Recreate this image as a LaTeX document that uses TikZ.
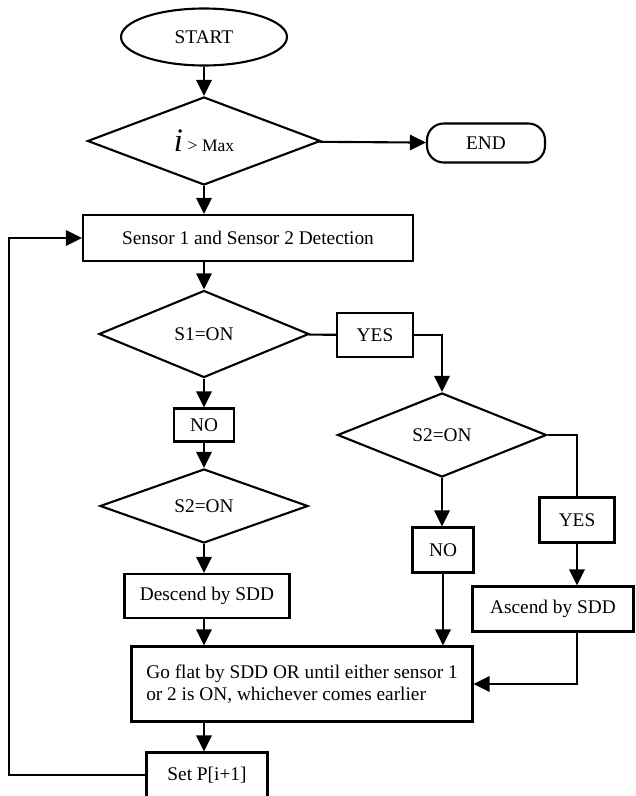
\documentclass[tikz,border=0pt]{standalone}
\usepackage{fontspec}
\setmainfont{Liberation Serif}
\usetikzlibrary{shapes.geometric, arrows.meta}

\begin{document}
\begin{tikzpicture}[x=0.03cm, y=-0.03cm, line width=1.8pt,
        font=\fontsize{16.5}{19}\selectfont,
        box/.style={draw, rectangle, inner sep=0pt},
        test/.style={draw, diamond, inner sep=0pt},
        flow/.style={-{Triangle[length=0.48cm, width=0.46cm]}}]
        \useasboundingbox (0, 0) rectangle (635, 796);

        \node[draw, ellipse, inner sep=0pt, minimum width=4.98cm, minimum height=1.71cm] (start) at (204, 37) {START};
        \node[test, minimum width=6.99cm, minimum height=2.64cm] (check) at (204, 141) {{\fontsize{28}{28}\selectfont\itshape i} {\fontsize{15}{15}\selectfont > Max}};
        \node[draw, rounded corners=0.5cm, minimum width=3.54cm, minimum height=1.17cm] (stop) at (486, 143) {END};

        \node[box, minimum width=9.9cm, minimum height=1.38cm] (detect) at (248, 238) {Sensor 1 and Sensor 2 Detection};
        \node[test, minimum width=6.3cm, minimum height=2.61cm] (s1) at (204, 334) {S1=ON};
        \node[box, minimum width=2.28cm, minimum height=1.32cm] (yes1) at (375, 335) {YES};
        \node[box, minimum width=1.8cm, minimum height=0.99cm] (no1) at (204, 425) {NO};
        \node[test, minimum width=6.24cm, minimum height=2.22cm] (s2a) at (204, 506) {S2=ON};
        \node[test, minimum width=6.27cm, minimum height=2.52cm] (s2b) at (442, 435) {S2=ON};
        \node[box, minimum width=1.83cm, minimum height=1.35cm] (no2) at (443, 550) {NO};
        \node[box, minimum width=2.25cm, minimum height=1.35cm] (yes2) at (577, 520) {YES};

        \node[box, minimum width=4.95cm, minimum height=1.32cm] (descend) at (207, 596) {Descend by SDD};
        \node[box, minimum width=4.83cm, minimum height=1.35cm] (ascend) at (553, 609) {Ascend by SDD};
        \node[box, align=left, minimum width=10.23cm, minimum height=2.25cm] (flat) at (302, 684) {Go flat by SDD OR until either sensor 1\\or 2 is ON, whichever comes earlier};
        \node[box, minimum width=3.63cm, minimum height=1.35cm] (setp) at (207, 775) {Set P[i+1]};
        \coordinate (loop) at (9, 240);

        \draw[flow] (start) -- (check);
        \draw[flow] (check) -- (stop);
        \draw[flow] (check.south) -- (check.south |- detect.north);
        \draw[flow] (detect.south -| s1.north) -- (s1.north);
        \draw (s1) -- (yes1);
        \draw[flow] (yes1) -| (s2b);
        \draw[flow] (s1) -- (no1);
        \draw[flow] (no1) -- (s2a);
        \draw[flow] (s2a) -- (s2a |- descend.north);
        \draw[flow] (descend.south -| s2a) -- (s2a |- flat.north);
        \draw[flow] (flat.south -| s2a) -- (s2a |- setp.north);
        \draw[flow] (s2b) -- (s2b |- no2.north);
        \draw[flow] (no2) -- (no2 |- flat.north);
        \draw (s2b) -| (yes2);
        \draw[flow] (yes2) -- (yes2 |- ascend.north);
        \draw[flow] (ascend.south -| yes2) |- (flat);
        \draw[flow] (setp) -- (setp -| loop) |- (detect);

    \end{tikzpicture}
\end{document}
